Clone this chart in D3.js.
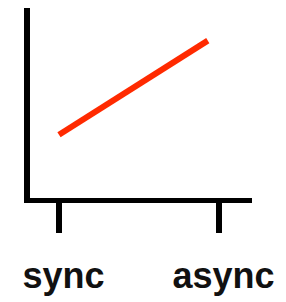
<!DOCTYPE html>
<html>
<head>
<meta charset="utf-8">
<script src="https://cdn.jsdelivr.net/npm/d3@7"></script>
<style>
  body { margin: 0; background: #fff; }
  svg { display: block; }
</style>
</head>
<body>
<div id="chart"></div>
<script>
// categories on the x axis and where they sit (0..1)
const categories = ['sync', 'async'];
const categoryPos = [0, 1];

// the red trend line, as x (0..1) / y (0..1) pairs
const lineX = [0.0, 0.93];
const lineY = [0.34, 0.83];

const width = 286;
const height = 302;

const svg = d3.select('#chart')
    .append('svg')
    .attr('width', width)
    .attr('height', height);

const x = d3.scaleLinear().domain([0, 1]).range([59, 219]);
const y = d3.scaleLinear().domain([0, 1]).range([200, 8]);

// y axis
svg.append('line')
    .attr('x1', 27).attr('x2', 27)
    .attr('y1', y(1)).attr('y2', 203)
    .attr('stroke', '#000')
    .attr('stroke-width', 6);

// x axis
svg.append('line')
    .attr('x1', 24).attr('x2', 252)
    .attr('y1', 200.5).attr('y2', 200.5)
    .attr('stroke', '#000')
    .attr('stroke-width', 5);

// ticks
svg.append('g')
    .selectAll('line')
    .data(categoryPos)
    .enter()
    .append('line')
    .attr('x1', d => x(d)).attr('x2', d => x(d))
    .attr('y1', 203).attr('y2', 233)
    .attr('stroke', '#000')
    .attr('stroke-width', 6);

// labels
svg.append('g')
    .selectAll('text')
    .data(categories)
    .enter()
    .append('text')
    .attr('x', (d, i) => x(categoryPos[i]) + 4.5)
    .attr('y', 288)
    .attr('text-anchor', 'middle')
    .attr('font-family', 'Liberation Sans, Arial, Helvetica, sans-serif')
    .attr('font-weight', 'bold')
    .attr('font-size', 36)
    .attr('fill', '#111')
    .text(d => d);

// red line
const points = lineX.map((v, i) => [v, lineY[i]]);
svg.append('path')
    .datum(points)
    .attr('fill', 'none')
    .attr('stroke', '#ff2a00')
    .attr('stroke-width', 6)
    .attr('d', d3.line().x(d => x(d[0])).y(d => y(d[1])));
</script>
</body>
</html>
